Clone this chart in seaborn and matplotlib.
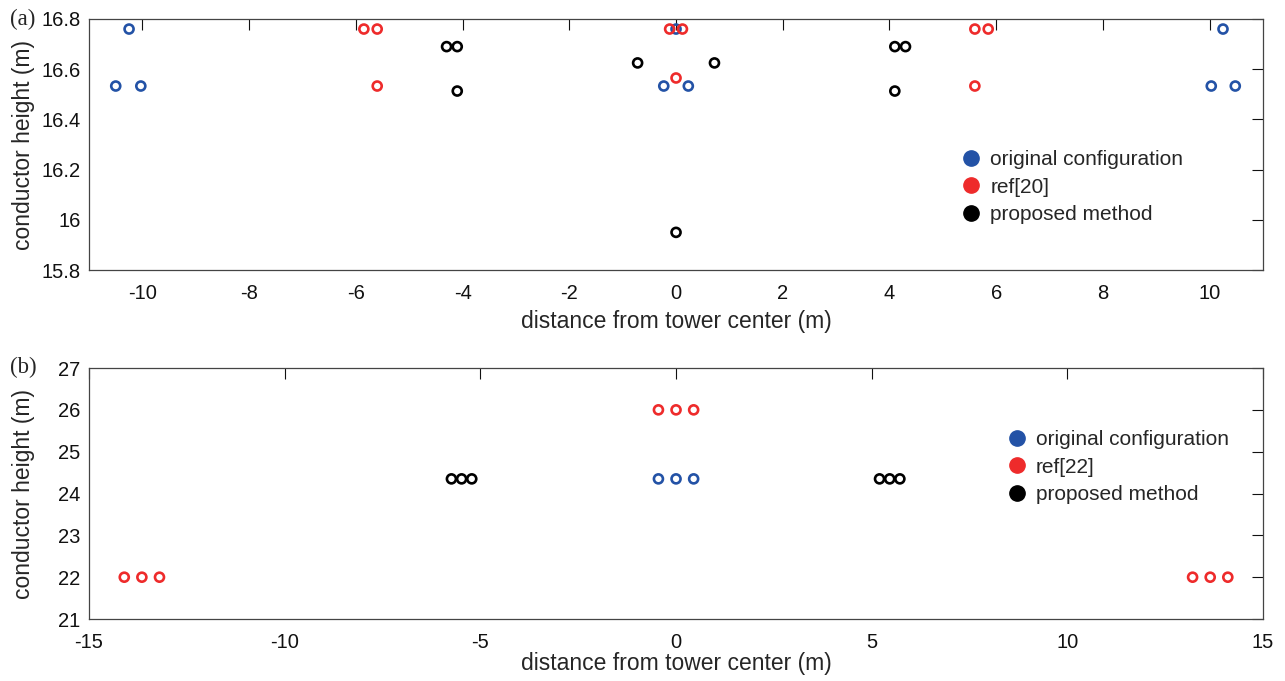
# Conductor arrangements: original vs. reference vs. proposed

import pandas as pd
import matplotlib.pyplot as plt
import seaborn as sns
from matplotlib.lines import Line2D

# Panel (a) data
a_orig_x = [-10.25, -10.5, -10.03, 0.0, -0.23, 0.23, 10.25, 10.03, 10.48]
a_orig_y = [16.76, 16.533, 16.533, 16.76, 16.533, 16.533, 16.76, 16.533, 16.533]
a_ref_x = [-5.85, -5.6, -5.6, -0.12, 0.12, 0.0, 5.6, 5.85, 5.6]
a_ref_y = [16.76, 16.76, 16.533, 16.76, 16.76, 16.565, 16.76, 16.76, 16.533]
a_prop_x = [-4.3, -4.1, -4.1, -0.72, 0.72, 0.0, 4.1, 4.3, 4.1]
a_prop_y = [16.69, 16.69, 16.513, 16.625, 16.625, 15.95, 16.69, 16.69, 16.513]

# Panel (b) data
b_orig_x = [-0.45, 0.0, 0.45]
b_orig_y = [24.35, 24.35, 24.35]
b_ref_x = [-14.1, -13.65, -13.2, -0.45, 0.0, 0.45, 13.2, 13.65, 14.1]
b_ref_y = [22.0, 22.0, 22.0, 26.0, 26.0, 26.0, 22.0, 22.0, 22.0]
b_prop_x = [-5.74, -5.48, -5.22, 5.2, 5.46, 5.72]
b_prop_y = [24.35, 24.35, 24.35, 24.35, 24.35, 24.35]

a_labels = ['original configuration', 'ref[20]', 'proposed method']
b_labels = ['original configuration', 'ref[22]', 'proposed method']
a_xticks = list(range(-10, 11, 2))
a_yticks = [15.8, 16.0, 16.2, 16.4, 16.6, 16.8]
a_ytick_labels = ['15.8', '16', '16.2', '16.4', '16.6', '16.8']
b_xticks = [-15, -10, -5, 0, 5, 10, 15]
b_yticks = [21, 22, 23, 24, 25, 26, 27]

BLUE = '#2352a6'
RED = '#ee2b2b'
BLACK = '#000000'

sns.set_style('white')
plt.rcParams['font.family'] = ['Liberation Sans', 'DejaVu Sans']
plt.rcParams['axes.unicode_minus'] = False

fig = plt.figure(figsize=(12.85, 6.81), dpi=100)
ax1 = fig.add_axes([0.0693, 0.6035, 0.9136, 0.3686])
ax2 = fig.add_axes([0.0693, 0.0910, 0.9136, 0.3686])


def draw(ax, series, colors):
    for (xs, ys), c in zip(series, colors):
        df = pd.DataFrame({'x': xs, 'y': ys})
        sns.scatterplot(data=df, x='x', y='y', ax=ax, color=c, facecolors='none',
                        edgecolor=c, linewidth=1.9, s=42, marker='o', zorder=3)


def style(ax, xlim, ylim, xticks, yticks, yticklabels, labels, anchor, xpad):
    ax.set_xlim(*xlim)
    ax.set_ylim(*ylim)
    ax.set_xticks(xticks)
    ax.set_xticklabels([str(t) for t in xticks])
    ax.set_yticks(yticks)
    ax.set_yticklabels(yticklabels)
    ax.tick_params(direction='in', length=8, width=0.8, top=True, right=True,
                   labelsize=14.5, colors='#111111')
    ax.tick_params(axis='x', pad=10)
    ax.tick_params(axis='y', pad=6)
    for sp in ax.spines.values():
        sp.set_visible(True)
        sp.set_color('#444444')
        sp.set_linewidth(0.9)
    ax.set_xlabel('distance from tower center (m)', fontsize=16.5, labelpad=xpad)
    ax.set_ylabel('conductor height (m)', fontsize=16.5)
    ax.yaxis.set_label_coords(-0.046, 0.5)
    handles = [Line2D([], [], linestyle='', marker='o', markersize=11,
                      markerfacecolor=c, markeredgecolor=c)
               for c in (BLUE, RED, BLACK)]
    ax.legend(handles, labels, loc='center left', bbox_to_anchor=anchor,
              frameon=False, fontsize=15, handletextpad=0.35,
              labelspacing=0.42, borderpad=0, handlelength=1.1)


draw(ax1, [(a_orig_x, a_orig_y), (a_ref_x, a_ref_y), (a_prop_x, a_prop_y)],
     [BLUE, RED, BLACK])
style(ax1, (-11, 11), (15.8, 16.8), a_xticks, a_yticks, a_ytick_labels,
      a_labels, (0.733, 0.33), 5)

draw(ax2, [(b_orig_x, b_orig_y), (b_ref_x, b_ref_y), (b_prop_x, b_prop_y)],
     [BLUE, RED, BLACK])
style(ax2, (-15, 15), (21, 27), b_xticks, b_yticks, [str(t) for t in b_yticks],
      b_labels, (0.772, 0.605), 0)

fig.text(0.008, 0.971, '(a)', family='Liberation Serif', fontsize=16.5, va='center')
fig.text(0.008, 0.461, '(b)', family='Liberation Serif', fontsize=16.5, va='center')

fig.savefig('out.png', dpi=100)
